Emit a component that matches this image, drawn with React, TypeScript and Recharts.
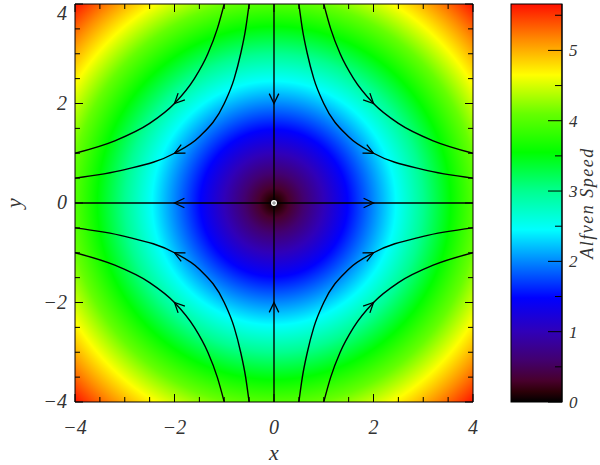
import React from 'react';
import { ComposedChart, Line, Scatter, XAxis, YAxis, ReferenceArea } from 'recharts';

// axis ticks (minor every 0.5, labels every 2)
const axisTicks = [-4, -3.5, -3, -2.5, -2, -1.5, -1, -0.5, 0, 0.5, 1, 1.5, 2, 2.5, 3, 3.5, 4];
const axisLabels = [-4, -2, 0, 2, 4];

// colour bar
const barTicks = [0, 0.5, 1, 1.5, 2, 2.5, 3, 3.5, 4, 4.5, 5, 5.5];
const barLabels = [0, 1, 2, 3, 4, 5];
const speedMax = 5.66;

const speedColors = [
  { v: 0, c: '#000000' },
  { v: 0.15, c: '#2c0008' },
  { v: 0.3, c: '#48002c' },
  { v: 0.6, c: '#420070' },
  { v: 1.0, c: '#3000b8' },
  { v: 1.48, c: '#0000ff' },
  { v: 2.0, c: '#0088ff' },
  { v: 2.45, c: '#00ffff' },
  { v: 3.0, c: '#00ff90' },
  { v: 3.55, c: '#00ff00' },
  { v: 4.1, c: '#66ff00' },
  { v: 4.65, c: '#ffff00' },
  { v: 5.15, c: '#ff8c00' },
  { v: 5.66, c: '#ff1000' },
];

// field lines
const flowUL4 = [{ x: -4, y: 1 }, { x: -3.2, y: 1.25 }, { x: -2.5, y: 1.6 }, { x: -2, y: 2 }, { x: -1.6, y: 2.5 }, { x: -1.33, y: 3 }, { x: -1.14, y: 3.5 }, { x: -1, y: 4 }];
const flowUL2 = [{ x: -4, y: 0.5 }, { x: -3, y: 0.67 }, { x: -2, y: 1 }, { x: -1.5, y: 1.33 }, { x: -1, y: 2 }, { x: -0.8, y: 2.5 }, { x: -0.67, y: 3 }, { x: -0.57, y: 3.5 }, { x: -0.5, y: 4 }];
const flowUR4 = [{ x: 1, y: 4 }, { x: 1.14, y: 3.5 }, { x: 1.33, y: 3 }, { x: 1.6, y: 2.5 }, { x: 2, y: 2 }, { x: 2.5, y: 1.6 }, { x: 3.2, y: 1.25 }, { x: 4, y: 1 }];
const flowUR2 = [{ x: 0.5, y: 4 }, { x: 0.57, y: 3.5 }, { x: 0.67, y: 3 }, { x: 0.8, y: 2.5 }, { x: 1, y: 2 }, { x: 1.5, y: 1.33 }, { x: 2, y: 1 }, { x: 3, y: 0.67 }, { x: 4, y: 0.5 }];
const flowLL4 = [{ x: -4, y: -1 }, { x: -3.2, y: -1.25 }, { x: -2.5, y: -1.6 }, { x: -2, y: -2 }, { x: -1.6, y: -2.5 }, { x: -1.33, y: -3 }, { x: -1.14, y: -3.5 }, { x: -1, y: -4 }];
const flowLL2 = [{ x: -4, y: -0.5 }, { x: -3, y: -0.67 }, { x: -2, y: -1 }, { x: -1.5, y: -1.33 }, { x: -1, y: -2 }, { x: -0.8, y: -2.5 }, { x: -0.67, y: -3 }, { x: -0.57, y: -3.5 }, { x: -0.5, y: -4 }];
const flowLR4 = [{ x: 1, y: -4 }, { x: 1.14, y: -3.5 }, { x: 1.33, y: -3 }, { x: 1.6, y: -2.5 }, { x: 2, y: -2 }, { x: 2.5, y: -1.6 }, { x: 3.2, y: -1.25 }, { x: 4, y: -1 }];
const flowLR2 = [{ x: 0.5, y: -4 }, { x: 0.57, y: -3.5 }, { x: 0.67, y: -3 }, { x: 0.8, y: -2.5 }, { x: 1, y: -2 }, { x: 1.5, y: -1.33 }, { x: 2, y: -1 }, { x: 3, y: -0.67 }, { x: 4, y: -0.5 }];
const flowXAxis = [{ x: -4, y: 0 }, { x: 4, y: 0 }];
const flowYAxis = [{ x: 0, y: -4 }, { x: 0, y: 4 }];

const curves = [flowUL4, flowUL2, flowUR4, flowUR2, flowLL4, flowLL2, flowLR4, flowLR2];

const arrowPoints = [
  { x: -2, y: 2 }, { x: -2, y: 1 }, { x: -2, y: 0 }, { x: -2, y: -1 }, { x: -2, y: -2 },
  { x: 2, y: 2 }, { x: 2, y: 1 }, { x: 2, y: 0 }, { x: 2, y: -1 }, { x: 2, y: -2 },
  { x: 0, y: 2 }, { x: 0, y: -2 },
];
const nullPoint = [{ x: 0, y: 0 }];

const textStyle = { fontFamily: '"Liberation Serif", "DejaVu Serif", serif', fontStyle: 'italic', fill: '#333' };
const fmt = (v: number) => (v < 0 ? `\u2212${Math.abs(v)}` : `${v}`);

const BottomTick = ({ x, y, payload }: any) => {
  const major = axisLabels.includes(payload.value);
  return (
    <g>
      <line x1={x} x2={x} y1={y} y2={y - (major ? 8 : 5)} stroke="#000" />
      {major && (
        <text x={x} y={y + 32} textAnchor="middle" style={{ ...textStyle, fontSize: 20 }}>
          {fmt(payload.value)}
        </text>
      )}
    </g>
  );
};
const TopTick = ({ x, y, payload }: any) => {
  const major = axisLabels.includes(payload.value);
  return <line x1={x} x2={x} y1={y} y2={y + (major ? 8 : 5)} stroke="#000" />;
};
const LeftTick = ({ x, y, payload }: any) => {
  const major = axisLabels.includes(payload.value);
  return (
    <g>
      <line x1={x} x2={x + (major ? 8 : 5)} y1={y} y2={y} stroke="#000" />
      {major && (
        <text x={x - 8} y={Math.max(y + 6, 20)} textAnchor="end" style={{ ...textStyle, fontSize: 20 }}>
          {fmt(payload.value)}
        </text>
      )}
    </g>
  );
};
const RightTick = ({ x, y, payload }: any) => {
  const major = axisLabels.includes(payload.value);
  return <line x1={x} x2={x - (major ? 8 : 5)} y1={y} y2={y} stroke="#000" />;
};
const BarTick = ({ x, y, payload }: any) => {
  const major = barLabels.includes(payload.value);
  return (
    <g>
      <line x1={x} x2={x - (major ? 14 : 7)} y1={y} y2={y} stroke="#000" />
      {major && (
        <text x={x + 7} y={y + 6} textAnchor="start" style={{ ...textStyle, fontSize: 17 }}>
          {payload.value}
        </text>
      )}
    </g>
  );
};

const SpeedMap = ({ x, y, width, height }: any) => {
  const cx = x + width / 2;
  const cy = y + height / 2;
  const r = (speedMax * width) / 8;
  return (
    <g>
      <defs>
        <radialGradient id="speedMap" gradientUnits="userSpaceOnUse" cx={cx} cy={cy} r={r}>
          {speedColors.map(s => (
            <stop key={s.v} offset={s.v / speedMax} stopColor={s.c} />
          ))}
        </radialGradient>
      </defs>
      <rect x={x} y={y} width={width} height={height} fill="url(#speedMap)" />
    </g>
  );
};

const SpeedBar = ({ x, y, width, height }: any) => (
  <g>
    <defs>
      <linearGradient id="speedBar" x1="0" y1="1" x2="0" y2="0">
        {speedColors.map(s => (
          <stop key={s.v} offset={s.v / speedMax} stopColor={s.c} />
        ))}
      </linearGradient>
    </defs>
    <rect x={x} y={y} width={width} height={height} fill="url(#speedBar)" stroke="#000" />
  </g>
);

const Arrow = ({ cx, cy, payload }: any) => {
  // flow goes outward along x and inward along y
  const a = Math.atan2(payload.y, payload.x);
  const L = 11;
  const s = 0.45;
  return (
    <path
      d={`M${cx - L * Math.cos(a - s)},${cy - L * Math.sin(a - s)} L${cx},${cy} L${cx - L * Math.cos(a + s)},${cy - L * Math.sin(a + s)}`}
      fill="none"
      stroke="#000"
      strokeWidth={1.3}
    />
  );
};

const Centre = ({ cx, cy }: any) => (
  <g>
    <circle cx={cx} cy={cy} r={3} fill="#fff" />
    <line x1={cx - 2} x2={cx + 2} y1={cy} y2={cy} stroke="#666" strokeWidth={0.8} />
    <line x1={cx} x2={cx} y1={cy - 2} y2={cy + 2} stroke="#666" strokeWidth={0.8} />
  </g>
);

const App = () => {
  return (
    <div style={{ position: 'absolute', left: 0, top: 0, width: 600, height: 465, background: '#fff' }}>
      <div style={{ position: 'absolute', left: 0, top: 0 }}>
        <ComposedChart width={600} height={465} margin={{ top: 3, right: 126, bottom: 62, left: 74 }}>
          <XAxis
            xAxisId="b"
            dataKey="x"
            type="number"
            domain={[-4, 4]}
            allowDataOverflow
            ticks={axisTicks}
            interval={0}
            height={1}
            tickSize={0}
            tickMargin={0}
            tick={<BottomTick />}
            axisLine={{ stroke: '#000' }}
            label={({ viewBox }: any) => (
              <text x={viewBox.x + viewBox.width / 2} y={viewBox.y + 58} textAnchor="middle" style={{ ...textStyle, fontSize: 22 }}>
                x
              </text>
            )}
          />
          <XAxis
            xAxisId="t"
            orientation="top"
            dataKey="x"
            type="number"
            domain={[-4, 4]}
            allowDataOverflow
            ticks={axisTicks}
            interval={0}
            height={1}
            tickSize={0}
            tickMargin={0}
            tick={<TopTick />}
            axisLine={{ stroke: '#000' }}
          />
          <YAxis
            yAxisId="l"
            type="number"
            domain={[-4, 4]}
            allowDataOverflow
            ticks={axisTicks}
            interval={0}
            width={1}
            tickSize={0}
            tickMargin={0}
            tick={<LeftTick />}
            axisLine={{ stroke: '#000' }}
            label={({ viewBox }: any) => (
              <text
                x={0}
                y={0}
                transform={`translate(${viewBox.x - 53},${viewBox.y + viewBox.height / 2}) rotate(-90)`}
                textAnchor="middle"
                style={{ ...textStyle, fontSize: 22 }}
              >
                y
              </text>
            )}
          />
          <YAxis
            yAxisId="r"
            orientation="right"
            type="number"
            domain={[-4, 4]}
            allowDataOverflow
            ticks={axisTicks}
            interval={0}
            width={1}
            tickSize={0}
            tickMargin={0}
            tick={<RightTick />}
            axisLine={{ stroke: '#000' }}
          />
          <ReferenceArea xAxisId="b" yAxisId="l" x1={-4} x2={4} y1={-4} y2={4} shape={<SpeedMap />} />
          {curves.map((c, i) => (
            <Line
              key={i}
              xAxisId="b"
              yAxisId="l"
              data={c}
              dataKey="y"
              type="monotone"
              stroke="#000"
              strokeWidth={1.4}
              dot={false}
              activeDot={false}
              isAnimationActive={false}
            />
          ))}
          <Line xAxisId="b" yAxisId="l" data={flowXAxis} dataKey="y" type="linear" stroke="#000" strokeWidth={1.4} dot={false} activeDot={false} isAnimationActive={false} />
          <Line xAxisId="b" yAxisId="l" data={flowYAxis} dataKey="y" type="linear" stroke="#000" strokeWidth={1.4} dot={false} activeDot={false} isAnimationActive={false} />
          <Scatter xAxisId="b" yAxisId="l" data={arrowPoints} dataKey="y" shape={<Arrow />} isAnimationActive={false} />
          <Scatter xAxisId="b" yAxisId="l" data={nullPoint} dataKey="y" shape={<Centre />} isAnimationActive={false} />
        </ComposedChart>
      </div>
      <div style={{ position: 'absolute', left: 490, top: 0 }}>
        <ComposedChart width={110} height={465} margin={{ top: 4, right: 37, bottom: 63, left: 21 }}>
          <XAxis dataKey="x" type="number" domain={[0, 1]} allowDataOverflow hide />
          <YAxis
            orientation="right"
            type="number"
            domain={[0, speedMax]}
            allowDataOverflow
            ticks={barTicks}
            interval={0}
            width={1}
            tickSize={0}
            tickMargin={0}
            tick={<BarTick />}
            axisLine={{ stroke: '#000' }}
            label={({ viewBox }: any) => (
              <text
                x={0}
                y={0}
                transform={`translate(${viewBox.x + 31},${viewBox.y + viewBox.height / 2}) rotate(-90)`}
                textAnchor="middle"
                style={{ ...textStyle, fontSize: 18, letterSpacing: 1.5 }}
              >
                Alfven Speed
              </text>
            )}
          />
          <ReferenceArea x1={0} x2={1} y1={0} y2={speedMax} shape={<SpeedBar />} />
        </ComposedChart>
      </div>
    </div>
  );
};

export default App;
